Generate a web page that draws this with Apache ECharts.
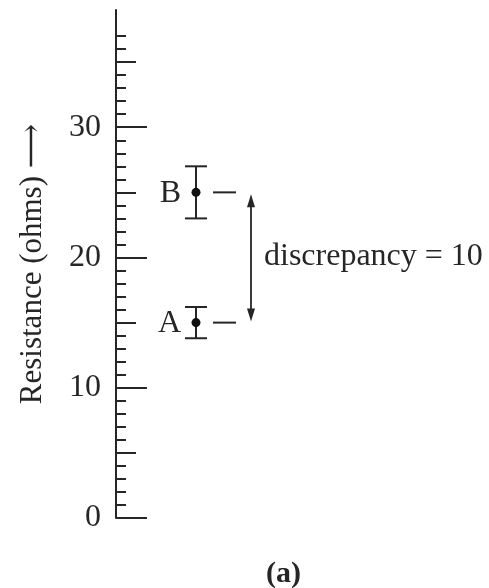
<!DOCTYPE html>
<html>
<head>
<meta charset="utf-8">
<script src="https://cdn.jsdelivr.net/npm/echarts@6/dist/echarts.min.js"></script>
<style>
html,body{margin:0;padding:0;background:#fff;}
#chart{width:489px;height:588px;}
</style>
</head>
<body>
<div id="chart"></div>
<script>
// ---- data ----
const pointLabels = ['A', 'B'];
const pointValues = [15, 25];
const pointErrors = [1.2, 2];
const pointX = [2, 2];
const majorTicks = [0, 10, 20, 30];
const mediumTicks = [5, 15, 25, 35];
const minorTicks = [1, 2, 3, 4, 6, 7, 8, 9, 11, 12, 13, 14, 16, 17, 18, 19, 21, 22, 23, 24, 26, 27, 28, 29, 31, 32, 33, 34, 36, 37];
const tickLabels = ['0', '10', '20', '30'];
const axisTitle = 'Resistance (ohms) ⟶';
const panelLabel = '(a)';

const serif = '"Liberation Serif", "DejaVu Serif", serif';
const ink = '#262626';

const measureData = pointLabels.map((l, i) => [pointX[i], pointValues[i], pointErrors[i], l]);
const discData = [[pointX[0], pointValues[0], pointValues[1]]];

function yAxisBase(extra) {
  return Object.assign({
    type: 'value', position: 'left', min: 0, max: 39,
    splitLine: { show: false },
    axisLine: { show: false },
    axisLabel: { show: false },
    axisTick: { show: false }
  }, extra);
}

const option = {
  animation: false,
  backgroundColor: '#fff',
  title: {
    text: panelLabel, left: 261, top: 554,
    textStyle: { fontFamily: serif, fontSize: 30, fontWeight: 'bold', color: ink }
  },
  grid: { left: 116, top: 10, bottom: 70, width: 200 },
  xAxis: { type: 'value', min: 0, max: 5, show: false },
  yAxis: [
    yAxisBase({
      axisLine: { show: true, lineStyle: { color: ink, width: 2 } },
      axisTick: { show: true, inside: true, length: 31, customValues: majorTicks, lineStyle: { color: ink, width: 2 } },
      axisLabel: {
        show: true, customValues: majorTicks, margin: 15,
        formatter: v => tickLabels[majorTicks.indexOf(v)],
        fontFamily: serif, fontSize: 32, color: ink
      },
      name: axisTitle, nameLocation: 'middle', nameRotate: 90, nameGap: 68,
      nameTextStyle: { fontFamily: serif, fontSize: 31, color: ink }
    }),
    yAxisBase({
      axisTick: { show: true, inside: true, length: 20, customValues: mediumTicks, lineStyle: { color: ink, width: 2 } }
    }),
    yAxisBase({
      axisTick: { show: true, inside: true, length: 10, customValues: minorTicks, lineStyle: { color: ink, width: 2 } }
    })
  ],
  series: [
    {
      type: 'custom',
      data: measureData,
      encode: { x: 0, y: 1 },
      renderItem: function (params, api) {
        const x = api.value(0), y = api.value(1), e = api.value(2);
        const label = pointLabels[params.dataIndex];
        const p = api.coord([x, y]);
        const t = api.coord([x, y + e]);
        const b = api.coord([x, y - e]);
        const ls = { stroke: ink, lineWidth: 2 };
        return {
          type: 'group',
          children: [
            { type: 'line', shape: { x1: p[0], y1: t[1], x2: p[0], y2: b[1] }, style: ls },
            { type: 'line', shape: { x1: p[0] - 11, y1: t[1], x2: p[0] + 11, y2: t[1] }, style: ls },
            { type: 'line', shape: { x1: p[0] - 11, y1: b[1], x2: p[0] + 11, y2: b[1] }, style: ls },
            { type: 'circle', shape: { cx: p[0], cy: p[1], r: 4.5 }, style: { fill: '#111' } },
            { type: 'line', shape: { x1: p[0] + 17, y1: p[1], x2: p[0] + 40, y2: p[1] }, style: ls },
            { type: 'text', x: p[0] - 15, y: p[1] + 1, style: { text: label, fill: ink, font: '32px ' + serif, textAlign: 'right', textVerticalAlign: 'middle' } }
          ]
        };
      }
    },
    {
      type: 'custom',
      data: discData,
      encode: { x: 0, y: [1, 2] },
      renderItem: function (params, api) {
        const x = api.value(0), lo = api.value(1), hi = api.value(2);
        const pl = api.coord([x, lo]);
        const ph = api.coord([x, hi]);
        const pm = api.coord([x, (lo + hi) / 2]);
        const ax = pl[0] + 55;
        const ytop = ph[1] + 2, ybot = pl[1] - 1;
        return {
          type: 'group',
          children: [
            { type: 'line', shape: { x1: ax, y1: ytop + 6, x2: ax, y2: ybot - 6 }, style: { stroke: ink, lineWidth: 1.8 } },
            { type: 'polygon', shape: { points: [[ax, ytop], [ax - 4, ytop + 13], [ax + 4, ytop + 13]] }, style: { fill: ink } },
            { type: 'polygon', shape: { points: [[ax, ybot], [ax - 4, ybot - 13], [ax + 4, ybot - 13]] }, style: { fill: ink } },
            { type: 'text', x: ax + 13, y: pm[1] - 1, style: { text: 'discrepancy = ' + (hi - lo), fill: ink, font: '32px ' + serif, textAlign: 'left', textVerticalAlign: 'middle' } }
          ]
        };
      }
    }
  ]
};

const chart = echarts.init(document.getElementById('chart'), null, { renderer: 'canvas' });
chart.setOption(option);
</script>
</body>
</html>
